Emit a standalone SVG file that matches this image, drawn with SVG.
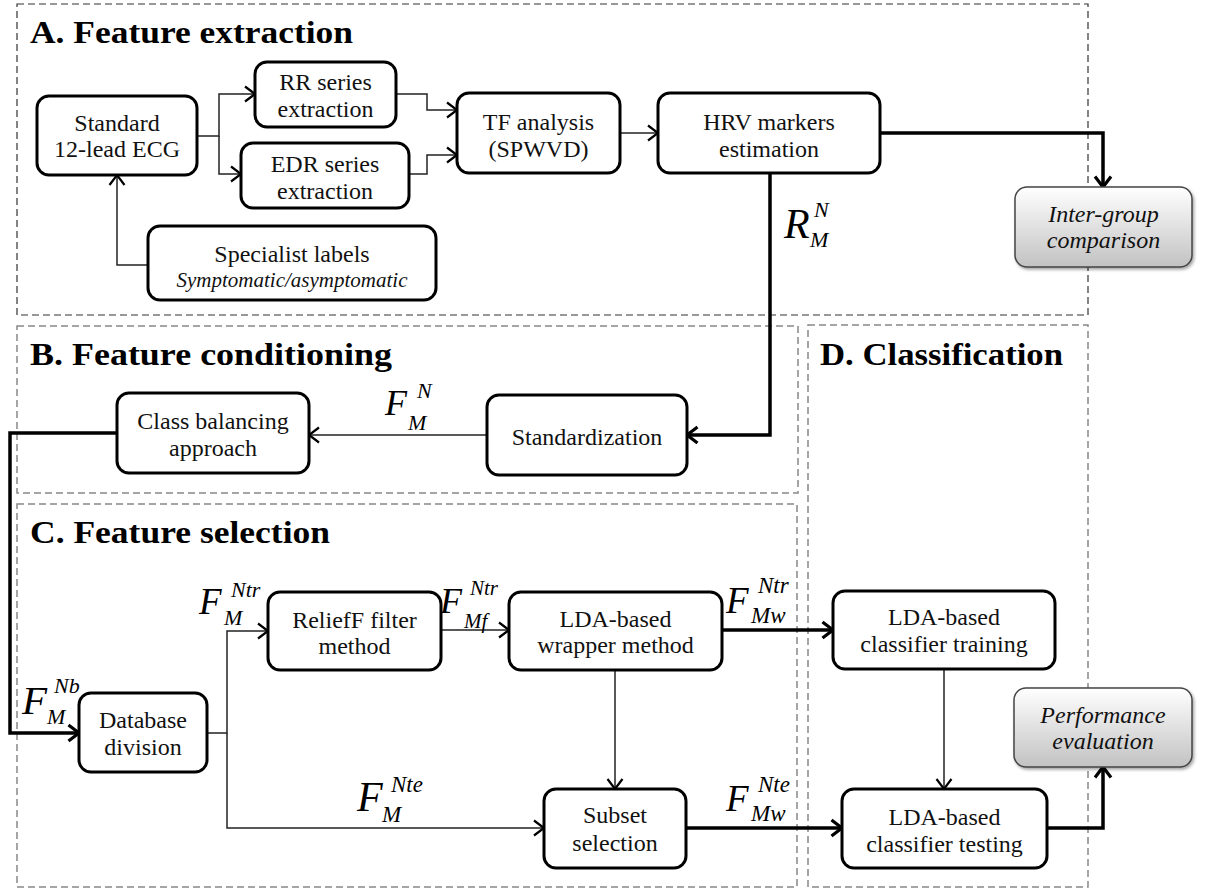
<svg xmlns="http://www.w3.org/2000/svg" width="1208" height="891" viewBox="0 0 1208 891">
<defs>
<style>
.panelA{fill:none;stroke:#333;stroke-width:1.2;stroke-dasharray:7 4}
.panel{fill:none;stroke:#888;stroke-width:1.5;stroke-dasharray:7 4}
.box{fill:#fff;stroke:#000;stroke-width:3}
.gbox{fill:url(#gg);stroke:#444;stroke-width:1.5}
.t{font-family:'Liberation Serif','Times New Roman',serif;font-size:24px;fill:#111;text-anchor:middle}
.ti{font-family:'Liberation Serif','Times New Roman',serif;font-size:24px;fill:#111;text-anchor:middle;font-style:italic}
.small{font-size:21px}
.title{font-family:'Liberation Serif','Times New Roman',serif;font-size:32px;font-weight:bold;fill:#000}
.m{font-family:'Liberation Serif','Times New Roman',serif;font-style:italic;fill:#000}
.thin{fill:none;stroke:#222;stroke-width:1.5}
.thick{fill:none;stroke:#000;stroke-width:3.5}
</style>
<linearGradient id="gg" x1="0" y1="0" x2="0" y2="1">
<stop offset="0" stop-color="#ffffff"/>
<stop offset="1" stop-color="#c2c2c2"/>
</linearGradient>
<filter id="sh" x="-10%" y="-10%" width="130%" height="140%">
<feDropShadow dx="1.5" dy="2" stdDeviation="1.5" flood-color="#000" flood-opacity="0.35"/>
</filter>
<marker id="a1" markerWidth="14" markerHeight="18" refX="11" refY="9" orient="auto" markerUnits="userSpaceOnUse">
<path d="M1,1.5 L11,9 L1,16.5" fill="none" stroke="#000" stroke-width="2.2"/>
</marker>
<marker id="a2" markerWidth="16" markerHeight="20" refX="12" refY="10" orient="auto" markerUnits="userSpaceOnUse">
<path d="M1.5,2 L12,10 L1.5,18" fill="none" stroke="#000" stroke-width="3.2"/>
</marker>
</defs>
<rect width="1208" height="891" fill="#fff"/>

<g id="panels">
<rect class="panelA" x="17" y="4" width="1071" height="311"/>
<rect class="panel" x="17" y="326" width="781" height="167"/>
<rect class="panel" x="17" y="504" width="780" height="383"/>
<rect class="panel" x="808" y="325" width="280" height="562"/>
<text class="title" x="30" y="43" textLength="323" lengthAdjust="spacingAndGlyphs">A. Feature extraction</text>
<text class="title" x="30" y="365" textLength="362" lengthAdjust="spacingAndGlyphs">B. Feature conditioning</text>
<text class="title" x="30" y="543" textLength="300" lengthAdjust="spacingAndGlyphs">C. Feature selection</text>
<text class="title" x="820" y="365" textLength="243" lengthAdjust="spacingAndGlyphs">D. Classification</text>
</g>

<g id="connectors">
<path class="thin" d="M197,136 H219 V94 H255" marker-end="url(#a1)"/>
<path class="thin" d="M219,136 V174 H241" marker-end="url(#a1)"/>
<path class="thin" d="M148,265 H117 V175" marker-end="url(#a1)"/>
<path class="thin" d="M396,94 H427 V110 H457" marker-end="url(#a1)"/>
<path class="thin" d="M409,174 H427 V155 H457" marker-end="url(#a1)"/>
<path class="thin" d="M620,133 H658" marker-end="url(#a1)"/>
<path class="thin" d="M487,435 H309" marker-end="url(#a1)"/>
<path class="thin" d="M207,733 H227 V631 H268" marker-end="url(#a1)"/>
<path class="thin" d="M227,733 V828 H544" marker-end="url(#a1)"/>
<path class="thin" d="M441,630 H509" marker-end="url(#a1)"/>
<path class="thin" d="M615,670 V789" stroke="#666" marker-end="url(#a1)"/>
<path class="thin" d="M944,669 V789" marker-end="url(#a1)"/>
<path class="thick" d="M880,133 H1103 V187" marker-end="url(#a2)"/>
<path class="thick" d="M770,173 V435 H687" marker-end="url(#a2)"/>
<path class="thick" d="M117,433 H10 V733 H79" marker-end="url(#a2)"/>
<path class="thick" d="M722,630 H833" marker-end="url(#a2)"/>
<path class="thick" d="M686,828 H842" marker-end="url(#a2)"/>
<path class="thick" d="M1047,828 H1103 V767" marker-end="url(#a2)"/>
</g>

<g id="labels">
<text class="m" x="784" y="238" font-size="42">R</text>
<text class="m" x="814" y="217" font-size="22">N</text>
<text class="m" x="810" y="247" font-size="22">M</text>

<text class="m" x="385" y="415" font-size="36">F</text>
<text class="m" x="417" y="398" font-size="22">N</text>
<text class="m" x="408" y="430" font-size="22">M</text>

<text class="m" x="22" y="714" font-size="41">F</text>
<text class="m" x="54" y="693" font-size="22">Nb</text>
<text class="m" x="47" y="724" font-size="22">M</text>

<text class="m" x="199" y="614" font-size="37">F</text>
<text class="m" x="231" y="597" font-size="22">Ntr</text>
<text class="m" x="224" y="625" font-size="22">M</text>

<text class="m" x="357" y="811" font-size="42">F</text>
<text class="m" x="391" y="792" font-size="23">Nte</text>
<text class="m" x="382" y="822" font-size="23">M</text>

<text class="m" x="440" y="613" font-size="36">F</text>
<text class="m" x="470" y="595" font-size="21">Ntr</text>
<text class="m" x="464" y="628" font-size="21">Mf</text>

<text class="m" x="726" y="613" font-size="37">F</text>
<text class="m" x="758" y="593" font-size="23">Ntr</text>
<text class="m" x="751" y="623" font-size="23">Mw</text>

<text class="m" x="726" y="811" font-size="37">F</text>
<text class="m" x="758" y="792" font-size="23">Nte</text>
<text class="m" x="751" y="821" font-size="23">Mw</text>
</g>

<g id="ecg"><rect class="box" x="37" y="96" width="160" height="79" rx="12"/>
<text class="t" x="117" y="131">Standard</text><text class="t" x="117" y="157">12-lead ECG</text></g>
<g id="rr"><rect class="box" x="255" y="62" width="141" height="65" rx="12"/>
<text class="t" x="325.5" y="90">RR series</text><text class="t" x="325.5" y="117">extraction</text></g>
<g id="edr"><rect class="box" x="241" y="143" width="168" height="65" rx="12"/>
<text class="t" x="325" y="172">EDR series</text><text class="t" x="325" y="199">extraction</text></g>
<g id="spec"><rect class="box" x="148" y="226" width="288" height="74" rx="12"/>
<text class="t" x="292" y="262">Specialist labels</text><text class="ti small" x="292" y="287">Symptomatic/asymptomatic</text></g>
<g id="tf"><rect class="box" x="457" y="93" width="163" height="80" rx="12"/>
<text class="t" x="538.5" y="130">TF analysis</text><text class="t" x="538.5" y="157">(SPWVD)</text></g>
<g id="hrv"><rect class="box" x="658" y="93" width="222" height="80" rx="12"/>
<text class="t" x="769" y="130">HRV markers</text><text class="t" x="769" y="157">estimation</text></g>
<g id="inter"><rect class="gbox" x="1015" y="187" width="177" height="80" rx="12" filter="url(#sh)"/>
<text class="ti" x="1103.5" y="222">Inter-group</text><text class="ti" x="1103.5" y="248">comparison</text></g>
<g id="std"><rect class="box" x="487" y="395" width="200" height="80" rx="12"/>
<text class="t" x="587" y="445">Standardization</text></g>
<g id="cls"><rect class="box" x="117" y="393" width="192" height="80" rx="12"/>
<text class="t" x="213" y="429">Class balancing</text><text class="t" x="213" y="456">approach</text></g>
<g id="db"><rect class="box" x="79" y="693" width="128" height="79" rx="12"/>
<text class="t" x="143" y="728">Database</text><text class="t" x="143" y="755">division</text></g>
<g id="relief"><rect class="box" x="268" y="592" width="173" height="78" rx="12"/>
<text class="t" x="354.5" y="628">ReliefF filter</text><text class="t" x="354.5" y="654">method</text></g>
<g id="wrap"><rect class="box" x="509" y="592" width="213" height="78" rx="12"/>
<text class="t" x="615.5" y="627">LDA-based</text><text class="t" x="615.5" y="653">wrapper method</text></g>
<g id="subset"><rect class="box" x="544" y="789" width="142" height="79" rx="12"/>
<text class="t" x="615" y="823">Subset</text><text class="t" x="615" y="851">selection</text></g>
<g id="train"><rect class="box" x="833" y="591" width="222" height="78" rx="12"/>
<text class="t" x="944" y="625">LDA-based</text><text class="t" x="944" y="652">classifier training</text></g>
<g id="test"><rect class="box" x="842" y="789" width="205" height="79" rx="12"/>
<text class="t" x="944.5" y="825">LDA-based</text><text class="t" x="944.5" y="852">classifier testing</text></g>
<g id="perf"><rect class="gbox" x="1014" y="688" width="178" height="79" rx="12" filter="url(#sh)"/>
<text class="ti" x="1103" y="723">Performance</text><text class="ti" x="1103" y="749">evaluation</text></g>
</svg>
